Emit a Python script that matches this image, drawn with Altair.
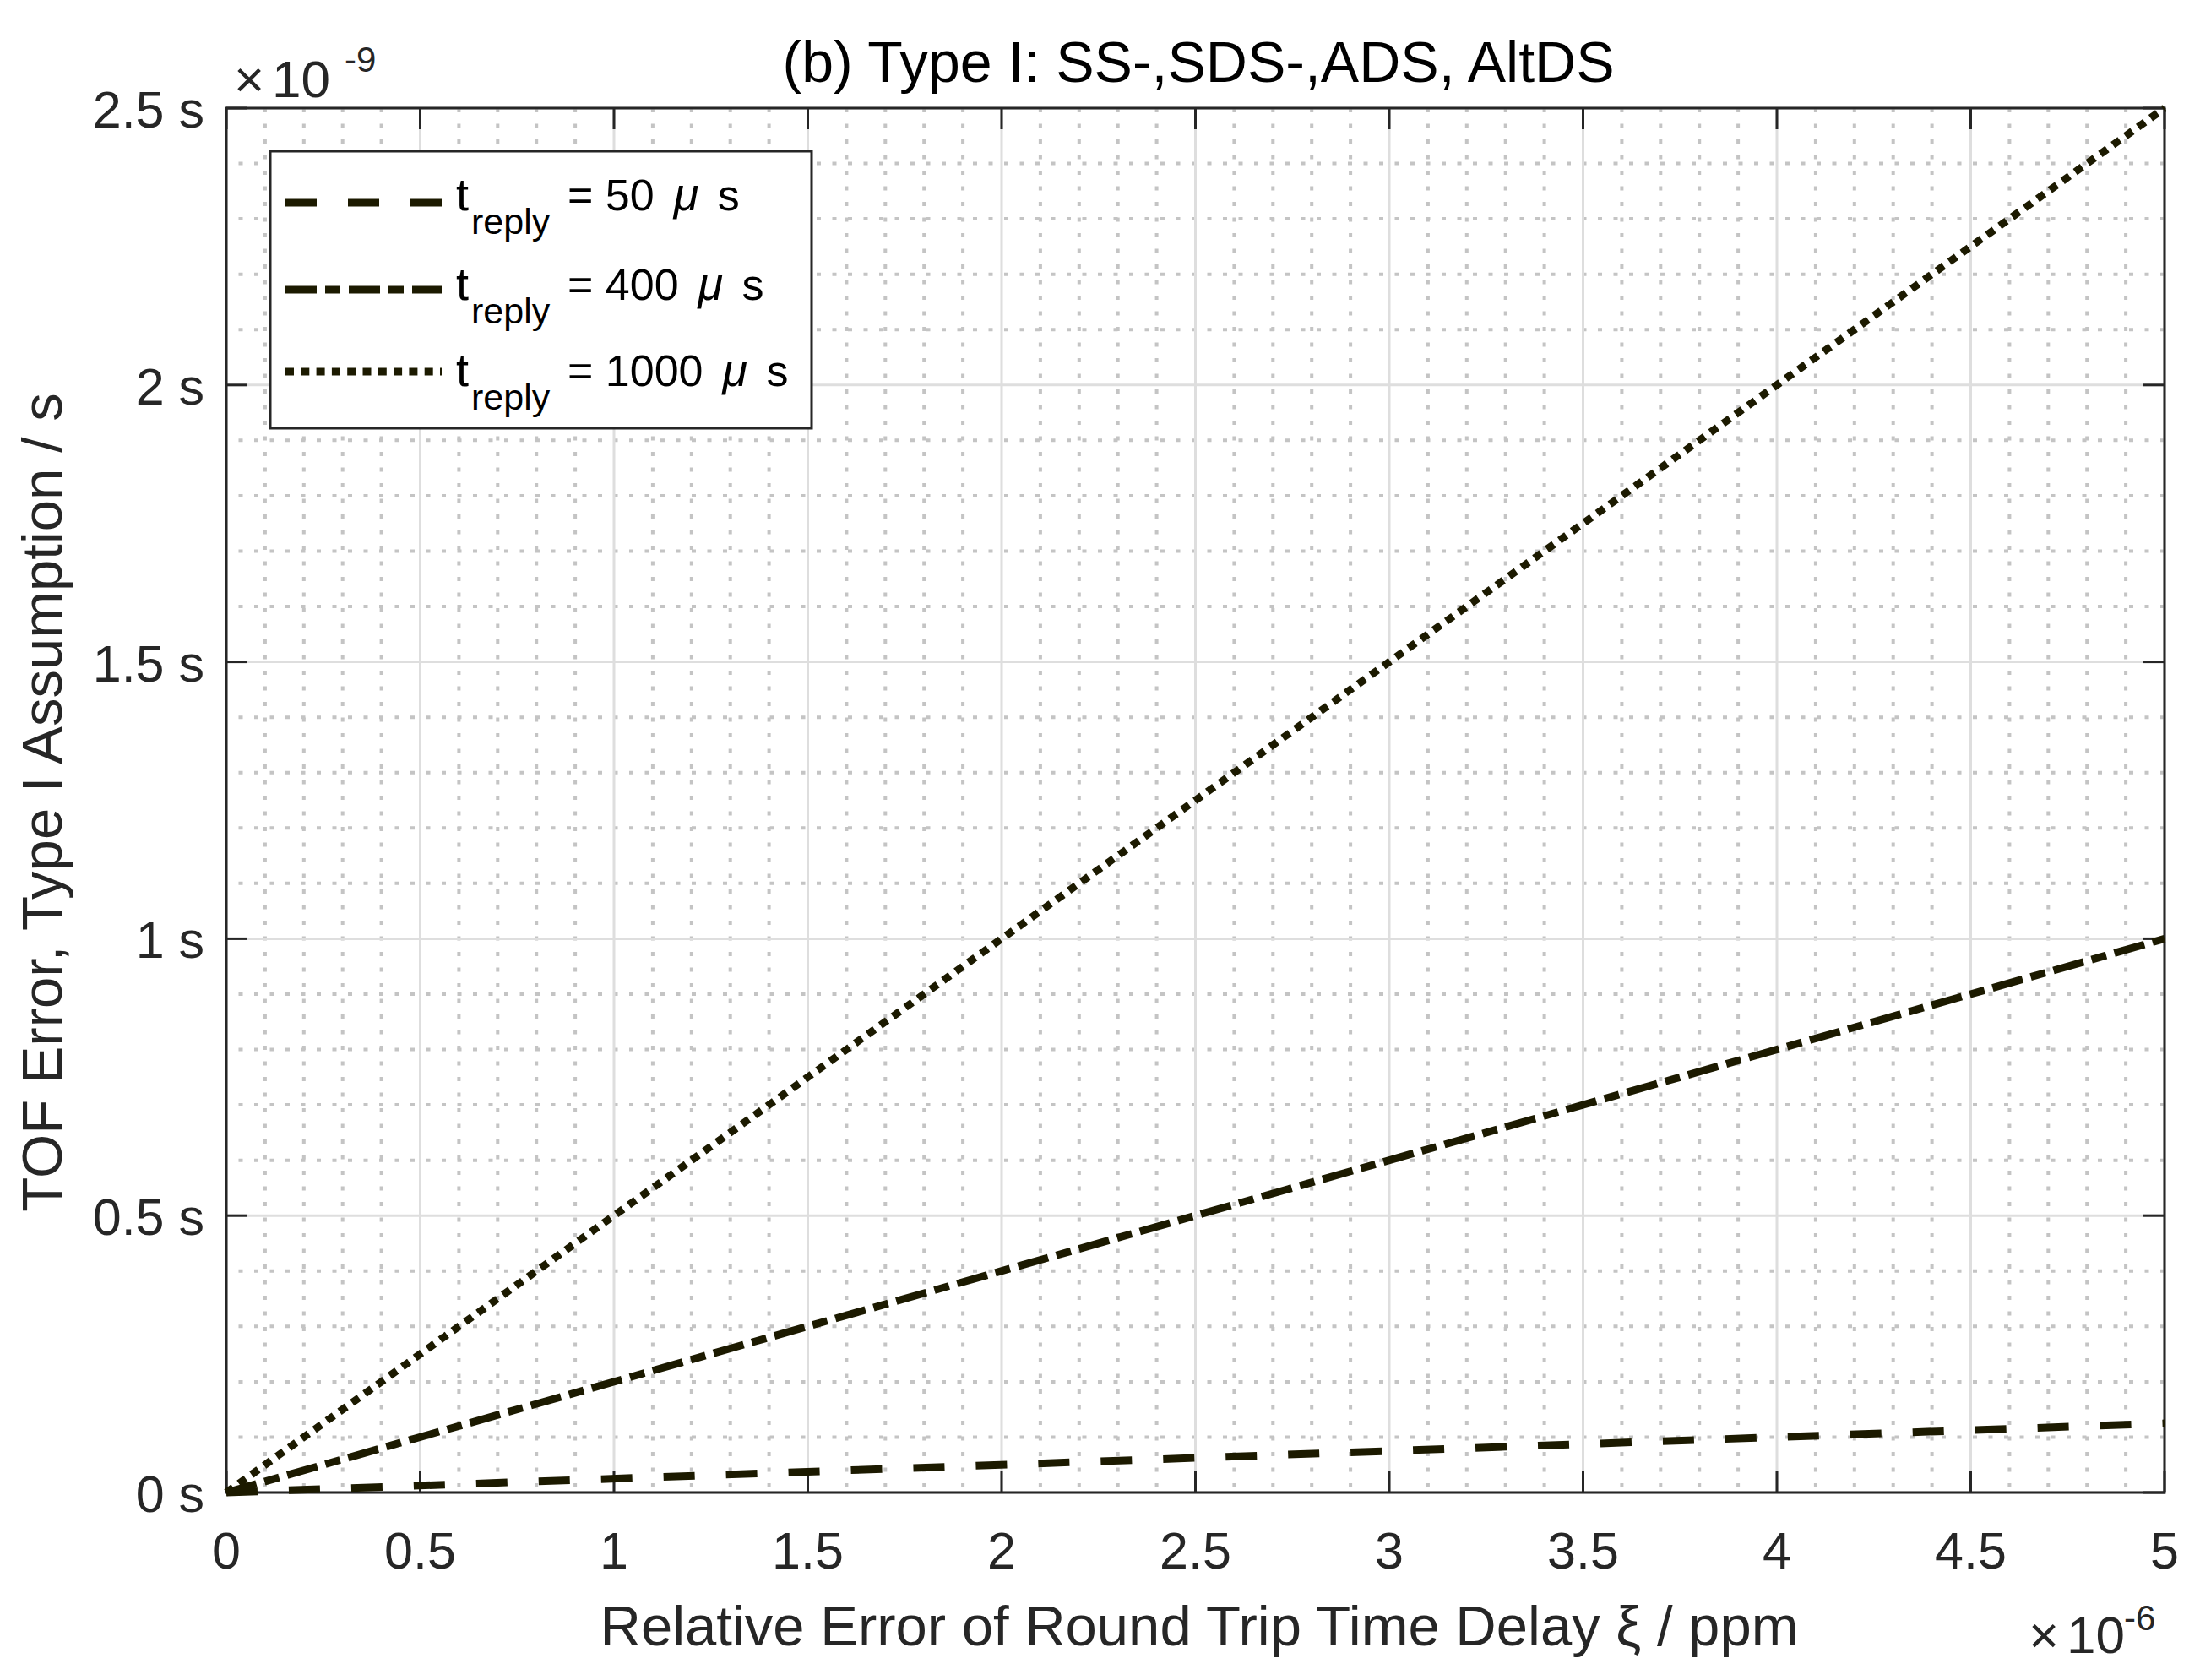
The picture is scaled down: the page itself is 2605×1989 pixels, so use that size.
import altair as alt
import pandas as pd

# ---------------- data ----------------
x_vals = [0.0, 5.0]            # relative error xi, in units of 1e-6
y_50 = [0.0, 0.125]            # TOF error, in units of 1e-9 s
y_400 = [0.0, 1.0]
y_1000 = [0.0, 2.5]
series_names = ["50", "400", "1000"]   # t_reply in microseconds

x_ticks = [0, 0.5, 1, 1.5, 2, 2.5, 3, 3.5, 4, 4.5, 5]
x_tick_labels = ["0", "0.5", "1", "1.5", "2", "2.5", "3", "3.5", "4", "4.5", "5"]
y_ticks = [0, 0.5, 1, 1.5, 2, 2.5]
y_tick_labels = ["0 s", "0.5 s", "1 s", "1.5 s", "2 s", "2.5 s"]
x_minor = [round(i * 0.1, 1) for i in range(51) if i % 5]
y_minor = [round(i * 0.1, 1) for i in range(26) if i % 5]

title_text = "(b) Type I: SS-,SDS-,ADS, AltDS"
x_title = "Relative Error of Round Trip Time Delay ξ / ppm"
y_title = "TOF Error, Type I Assumption / s"

# ---------------- styling ----------------
W, H = 2295, 1639
FONT = "Liberation Sans"
AX = "#262626"
LINE = "#1c1a00"
DASHES = [[37, 37], [37, 10, 18, 10], [10, 8.3]]

xs = alt.Scale(domain=[0, 5], nice=False, zero=False)
ys = alt.Scale(domain=[0, 2.5], nice=False, zero=False)

rows = []
for name, ys_ in zip(series_names, [y_50, y_400, y_1000]):
    for xv, yv in zip(x_vals, ys_):
        rows.append({"series": name, "x": xv, "y": yv})
df = pd.DataFrame(rows)

dummy = pd.DataFrame({"d": [0]})


def txt(s, x, y, size, align="left", color=AX, baseline="alphabetic", angle=0, style="normal", dy=0):
    kw = dict(text=s, font=FONT, fontSize=size, align=align, baseline=baseline,
              color=color, fontStyle=style)
    if angle:
        kw["angle"] = angle
    if dy:
        kw["dy"] = dy
    return alt.Chart(dummy).mark_text(**kw).encode(x=alt.value(x), y=alt.value(y))


layers = []

# minor grid (dotted)
layers.append(alt.Chart(pd.DataFrame({"x": x_minor})).mark_rule(
    color="#c4c4c4", strokeWidth=4, strokeDash=[5, 13.5]).encode(
    x=alt.X("x:Q", scale=xs, axis=None)))
layers.append(alt.Chart(pd.DataFrame({"y": y_minor})).mark_rule(
    color="#c4c4c4", strokeWidth=4, strokeDash=[5, 13.5]).encode(
    y=alt.Y("y:Q", scale=ys, axis=None)))
# major grid
layers.append(alt.Chart(pd.DataFrame({"x": x_ticks})).mark_rule(
    color="#dedede", strokeWidth=3).encode(x=alt.X("x:Q", scale=xs, axis=None)))
layers.append(alt.Chart(pd.DataFrame({"y": y_ticks})).mark_rule(
    color="#dedede", strokeWidth=3).encode(y=alt.Y("y:Q", scale=ys, axis=None)))

# frame
layers.append(alt.Chart(dummy).mark_rect(filled=False, stroke=AX, strokeWidth=3).encode(
    x=alt.value(0), x2=alt.value(W), y=alt.value(0), y2=alt.value(H)))

# inward ticks
xt = pd.DataFrame({"x": x_ticks, "lab": x_tick_labels})
yt = pd.DataFrame({"y": y_ticks, "lab": y_tick_labels})
layers.append(alt.Chart(xt).mark_rule(color=AX, strokeWidth=3).encode(
    x=alt.X("x:Q", scale=xs, axis=None), y=alt.value(H), y2=alt.value(H - 25)))
layers.append(alt.Chart(xt).mark_rule(color=AX, strokeWidth=3).encode(
    x=alt.X("x:Q", scale=xs, axis=None), y=alt.value(0), y2=alt.value(25)))
layers.append(alt.Chart(yt).mark_rule(color=AX, strokeWidth=3).encode(
    y=alt.Y("y:Q", scale=ys, axis=None), x=alt.value(0), x2=alt.value(25)))
layers.append(alt.Chart(yt).mark_rule(color=AX, strokeWidth=3).encode(
    y=alt.Y("y:Q", scale=ys, axis=None), x=alt.value(W - 25), x2=alt.value(W)))

# data lines
layers.append(alt.Chart(df).mark_line(strokeWidth=9, color=LINE, strokeCap="butt").encode(
    x=alt.X("x:Q", scale=xs, axis=None),
    y=alt.Y("y:Q", scale=ys, axis=None),
    strokeDash=alt.StrokeDash("series:N", scale=alt.Scale(domain=series_names, range=DASHES), legend=None),
    order=alt.Order("x:Q"),
))

# tick labels
layers.append(alt.Chart(xt).mark_text(font=FONT, fontSize=61, color=AX, align="center",
                                      baseline="alphabetic").encode(
    x=alt.X("x:Q", scale=xs, axis=None), y=alt.value(H + 90), text="lab:N"))
layers.append(alt.Chart(yt).mark_text(font=FONT, fontSize=61, color=AX, align="right",
                                      baseline="middle", dy=5).encode(
    y=alt.Y("y:Q", scale=ys, axis=None), x=alt.value(-26), text="lab:N"))

# exponent labels
layers.append(txt("×", 9, -13, 62))
layers.append(txt("10", 54, -13, 62))
layers.append(txt("-9", 140, -43, 42))
layers.append(txt("×", 2134, 1829, 62))
layers.append(txt("10", 2179, 1829, 62))
layers.append(txt("-6", 2247, 1802, 42))

# titles
layers.append(txt(title_text, 1151, -31, 68, align="center", color="#000000"))
layers.append(txt(x_title, 1152, 1820, 67, align="center"))
layers.append(txt(y_title, -195, 822, 67, align="center", angle=270))

# legend box
layers.append(alt.Chart(dummy).mark_rect(fill="white", stroke=AX, strokeWidth=3).encode(
    x=alt.value(52), x2=alt.value(693), y=alt.value(51), y2=alt.value(379)))

ADV = {"=": 0.584, " ": 0.278}
for d in "0123456789":
    ADV[d] = 0.556


def aw(s, fs):
    return sum(ADV.get(c, 0.556) for c in s) * fs


sample_y = [112, 215, 312]
base_y = [121, 227, 329]
for name, dash, ly, tb in zip(series_names, DASHES, sample_y, base_y):
    layers.append(alt.Chart(dummy).mark_rule(color=LINE, strokeWidth=9, strokeDash=dash,
                                             strokeCap="butt").encode(
        x=alt.value(70), x2=alt.value(255), y=alt.value(ly)))
    layers.append(txt("t", 272, tb, 54, color="#000000"))
    layers.append(txt("reply", 290, tb + 28, 43, color="#000000"))
    s = "= " + name
    layers.append(txt(s, 404, tb, 52, color="#000000"))
    mx = 404 + aw(s, 52) + 23
    layers.append(txt("μ", mx, tb, 54, color="#000000", style="italic"))
    layers.append(txt("s", mx + 52, tb, 52, color="#000000"))

chart = alt.layer(*layers).properties(
    width=W, height=H,
    padding={"left": 260, "top": 120, "right": 30, "bottom": 215},
    autosize=alt.AutoSizeParams(type="none"),
    background="white",
).configure_view(strokeWidth=0)

chart.save("out.html", embed_options={"renderer": "svg", "actions": False})
